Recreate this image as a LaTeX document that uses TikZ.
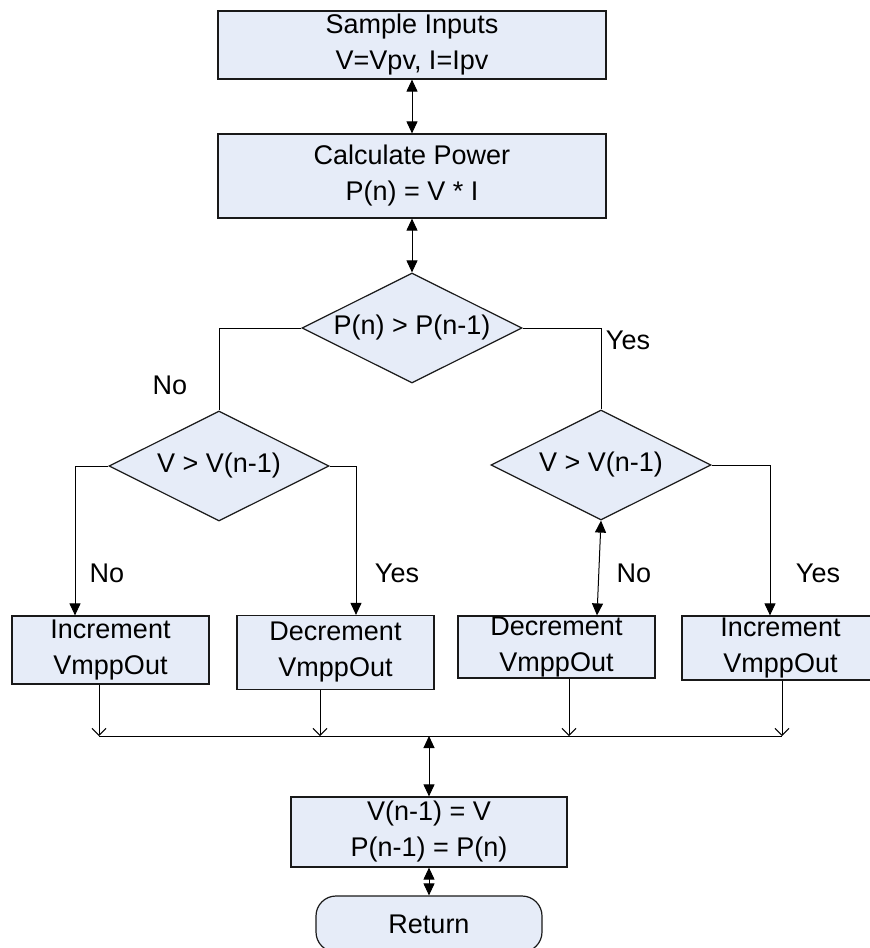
\documentclass[tikz,border=0pt]{standalone}
\usepackage{fontspec}
\setmainfont{Liberation Sans}
\usetikzlibrary{shapes.geometric, arrows.meta}
\definecolor{boxfill}{RGB}{230,236,248}
\tikzset{
  blok/.style={draw=black!90, fill=boxfill, line width=0.6pt, align=center, inner sep=0pt, font=\fontsize{13.5}{18}\selectfont},
  ruit/.style={blok, diamond, aspect=2, minimum width=110pt, minimum height=55pt},
  lijn/.style={line width=0.5pt},
  pijl/.style={lijn, -{Triangle[length=6pt,width=5.5pt]}},
  dpijl/.style={lijn, {Triangle[length=6pt,width=5.5pt]}-{Triangle[length=6pt,width=5.5pt]}},
  klein/.style={lijn, -{Straight Barb[length=3.5pt,width=7pt]}},
  lab/.style={font=\fontsize{13.5}{18}\selectfont}
}
\begin{document}
\begin{tikzpicture}[x=0.5pt, y=-0.5pt]
\useasboundingbox (0,0) rectangle (869,948);
\node[blok, minimum width=194pt, minimum height=34pt] (in) at (412,45) {Sample Inputs\\V=Vpv, I=Ipv};
\node[blok, minimum width=194pt, minimum height=42pt] (pow) at (412,176) {Calculate Power\\P(n) = V * I};
\node[ruit] (d1) at (412,328) {P(n) > P(n-1)};
\node[ruit] (d2) at (219,466) {V > V(n-1)};
\node[ruit] (d3) at (601,465) {V > V(n-1)};
\node[blok, minimum width=98.5pt, minimum height=34pt] (inc1) at (110.5,650) {Increment\\VmppOut};
\node[blok, minimum width=98.5pt, minimum height=37pt] (dec1) at (335.5,652.5) {Decrement\\VmppOut};
\node[blok, minimum width=98.5pt, minimum height=31pt] (dec2) at (556.5,647) {Decrement\\VmppOut};
\node[blok, minimum width=98.5pt, minimum height=32pt] (inc2) at (780.5,648) {Increment\\VmppOut};
\node[blok, minimum width=138pt, minimum height=35pt] (upd) at (429,832) {V(n-1) = V\\P(n-1) = P(n)};
\node[blok, rounded corners=10pt, minimum width=113pt, minimum height=28pt] (ret) at (429,924) {Return};
\coordinate (p1) at (75,0);
\coordinate (p2) at (356,0);
\coordinate (p3) at (597,0);
\coordinate (p4) at (770,0);
\coordinate (m1) at (99,736);
\coordinate (m2) at (320,736);
\coordinate (m3) at (569,736);
\coordinate (m4) at (782,736);
\coordinate (mc) at (429,736);
\draw[dpijl] (in) -- (pow);
\draw[dpijl] (pow) -- (d1);
\draw[lijn] (d1.west) -| (d2.north);
\draw[lijn] (d1.east) -| (d3.north);
\draw[pijl] (d2.west) -| (inc1.north -| p1);
\draw[pijl] (d2.east) -| (dec1.north -| p2);
\draw[dpijl] (d3.south) -- (dec2.north -| p3);
\draw[pijl] (d3.east) -| (inc2.north -| p4);
\draw[lijn] (m1) -- (m4);
\foreach \b/\m in {inc1/m1, dec1/m2, dec2/m3, inc2/m4}
  \draw[klein] (\b.south -| \m) -- (\m);
\draw[dpijl] (mc) -- (upd);
\draw[dpijl] (upd) -- (ret);
\node[lab] (n1) at (170,385) {No};
\node[lab] (y1) at (628,340) {Yes};
\node[lab] (n2) at (107,573) {No};
\node[lab] (y2) at (397,573) {Yes};
\node[lab] (n3) at (634,573) {No};
\node[lab] (y3) at (818,573) {Yes};
\end{tikzpicture}
\end{document}
